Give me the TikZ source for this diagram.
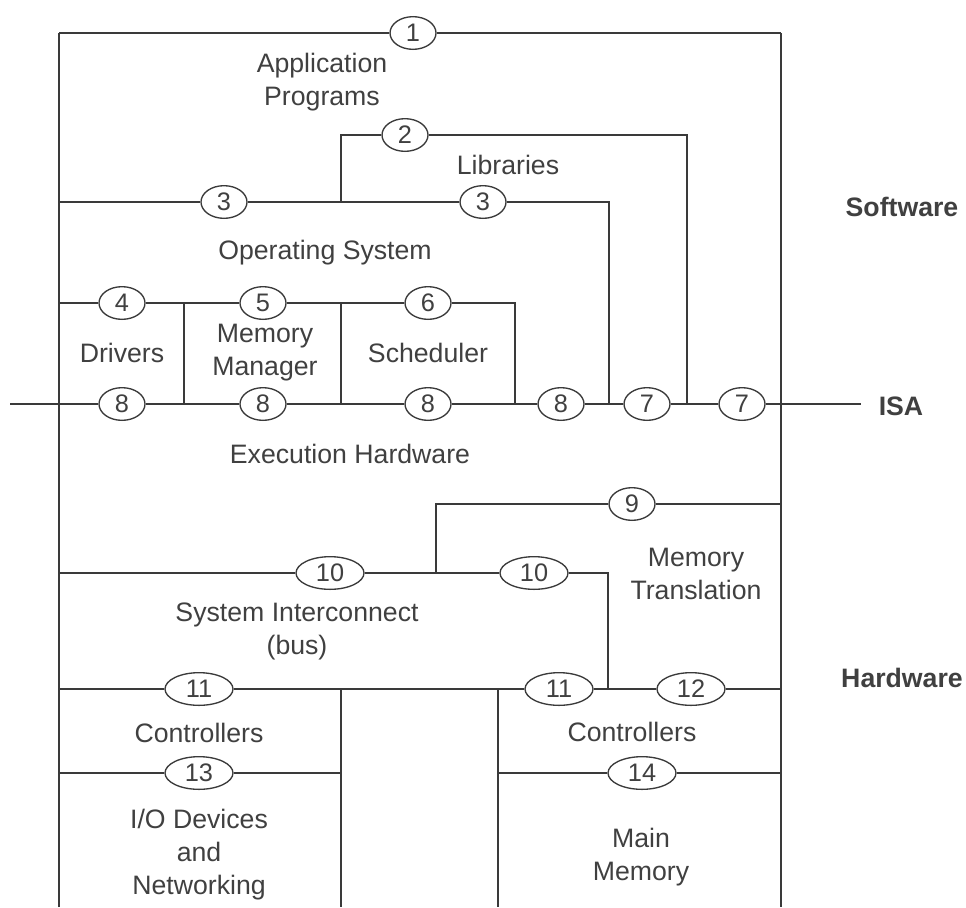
\documentclass[tikz,border=0pt]{standalone}
\usepackage{fontspec}
\setmainfont{Liberation Sans}
\usetikzlibrary{shapes.geometric}
\definecolor{ink}{HTML}{3A3A3A}
\definecolor{txt}{HTML}{404040}
\tikzset{
  ln/.style={draw=ink, line width=1.1pt},
  ell/.style={ellipse, draw=ink, line width=1pt, fill=white, inner sep=0pt,
    minimum width=34.5pt, minimum height=24.5pt, text=txt,
    font=\fontsize{19}{22}\selectfont},
  ellw/.style={ell, minimum width=51pt},
  lbl/.style={text=txt, align=center, inner sep=0pt,
    font=\fontsize{20}{24.75}\selectfont},
  side/.style={text=txt, inner sep=0pt, font=\fontsize{20}{24}\selectfont\bfseries},
}
\begin{document}
\begin{tikzpicture}[x=0.75pt, y=-0.75pt]
\useasboundingbox (0,0) rectangle (966,907);
% corner / junction coordinates
\coordinate (TL) at (59,33);
\coordinate (TR) at (781,33);
\coordinate (BL) at (59,907);
\coordinate (BR) at (781,907);
\coordinate (LibB) at (341,202);
\coordinate (LibTL) at (341,135);
\coordinate (LibTR) at (687,135);
\coordinate (LibBR) at (687,404);
\coordinate (OSL) at (59,202);
\coordinate (OSR) at (609,202);
\coordinate (OSBR) at (609,404);
\coordinate (KL) at (59,303);
\coordinate (K1) at (184,303);
\coordinate (K2) at (341,303);
\coordinate (KR) at (515,303);
\coordinate (K1B) at (184,404);
\coordinate (K2B) at (341,404);
\coordinate (KRB) at (515,404);
\coordinate (ISAL) at (10,404);
\coordinate (ISAR) at (861,404);
\coordinate (MTB) at (436,573);
\coordinate (MTT) at (436,504);
\coordinate (MTR) at (781,504);
\coordinate (BusL) at (59,573);
\coordinate (BusR) at (608,573);
\coordinate (BusRB) at (608,689);
\coordinate (CL) at (59,689);
\coordinate (C1) at (341,689);
\coordinate (C2) at (498,689);
\coordinate (CR) at (781,689);
\coordinate (C1B) at (341,907);
\coordinate (C2B) at (498,907);
\coordinate (IOL) at (59,773);
\coordinate (IOR) at (341,773);
\coordinate (MML) at (498,773);
\coordinate (MMR) at (781,773);

% interface ellipses
\node[ell] (e1) at (413,33) {1};
\node[ell] (e2) at (405,135) {2};
\node[ell] (e3a) at (224,202) {3};
\node[ell] (e3b) at (483,202) {3};
\node[ell] (e4) at (122,303) {4};
\node[ell] (e5) at (263,303) {5};
\node[ell] (e6) at (428,303) {6};
\node[ell] (e8a) at (122,404) {8};
\node[ell] (e8b) at (263,404) {8};
\node[ell] (e8c) at (428,404) {8};
\node[ell] (e8d) at (561,404) {8};
\node[ell] (e7a) at (647,404) {7};
\node[ell] (e7b) at (742,404) {7};
\node[ell] (e9) at (632,504) {9};
\node[ellw] (e10a) at (330,573) {10};
\node[ellw] (e10b) at (534,573) {10};
\node[ellw] (e11a) at (199,689) {11};
\node[ellw] (e11b) at (559,689) {11};
\node[ellw] (e12) at (691,689) {12};
\node[ellw] (e13) at (199,773) {13};
\node[ellw] (e14) at (642,773) {14};

% lines
\begin{scope}[on background layer/.try]
\end{scope}
\draw[ln] (TL) -- (e1) -- (TR);
\draw[ln] (BL) -- (TL);
\draw[ln] (TR) -- (BR);
\draw[ln] (LibB) -- (LibTL) -- (e2) -- (LibTR) -- (LibBR);
\draw[ln] (OSL) -- (e3a) -- (LibB) -- (e3b) -- (OSR) -- (OSBR);
\draw[ln] (KL) -- (e4) -- (K1) -- (e5) -- (K2) -- (e6) -- (KR) -- (KRB);
\draw[ln] (K1) -- (K1B);
\draw[ln] (K2) -- (K2B);
\draw[ln] (ISAL) -- (e8a) -- (e8b) -- (e8c) -- (e8d) -- (e7a) -- (e7b) -- (ISAR);
\draw[ln] (MTB) -- (MTT) -- (e9) -- (MTR);
\draw[ln] (BusL) -- (e10a) -- (MTB) -- (e10b) -- (BusR) -- (BusRB);
\draw[ln] (CL) -- (e11a) -- (C1) -- (C2) -- (e11b) -- (BusRB) -- (e12) -- (CR);
\draw[ln] (C1) -- (C1B);
\draw[ln] (C2) -- (C2B);
\draw[ln] (IOL) -- (e13) -- (IOR);
\draw[ln] (MML) -- (e14) -- (MMR);

% labels
\node[lbl] (app) at (322,82) {Application\\Programs};
\node[lbl] (lib) at (508,165) {Libraries};
\node[lbl] (os) at (325,253) {Operating System};
\node[lbl] (drv) at (122,353) {Drivers};
\node[lbl] (mm) at (265,353) {Memory\\Manager};
\node[lbl] (sch) at (428,353) {Scheduler};
\node[lbl] (exe) at (350,454) {Execution Hardware};
\node[lbl] (mt) at (696,574) {Memory\\Translation};
\node[lbl] (bus) at (297,631) {System Interconnect\\(bus)};
\node[lbl] (ctl1) at (199,733) {Controllers};
\node[lbl] (ctl2) at (632,732) {Controllers};
\node[lbl] (io) at (199,855) {I/O Devices\\and\\Networking};
\node[lbl] (mem) at (641,857) {Main\\Memory};
\node[side] (sw) at (902,207) {Software};
\node[side] (isa) at (901,406) {ISA};
\node[side] (hw) at (902,678) {Hardware};
\end{tikzpicture}
\end{document}
